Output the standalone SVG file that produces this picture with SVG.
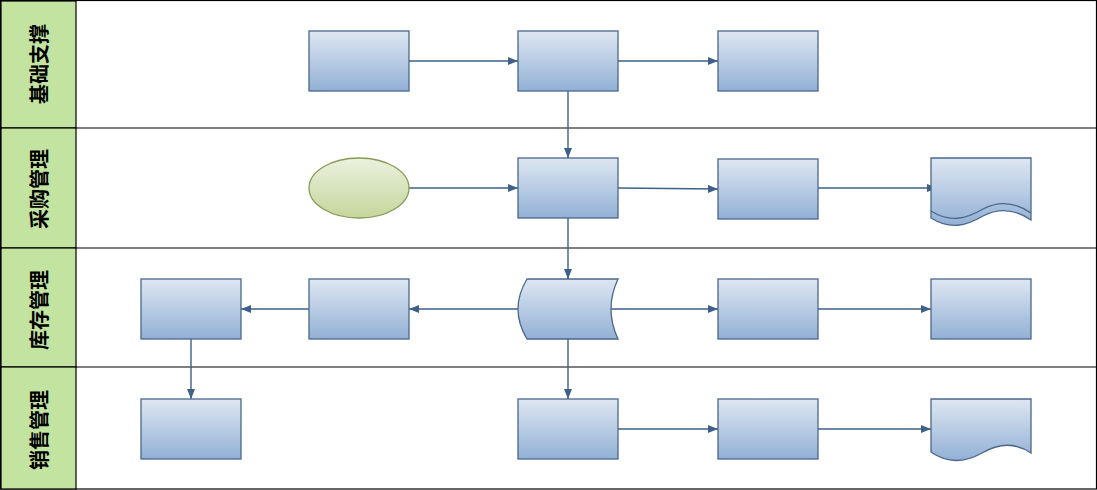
<svg xmlns="http://www.w3.org/2000/svg" width="1097" height="490" viewBox="0 0 1097 490">
<style>
.lane{fill:#ffffff;stroke:#000000;stroke-width:1.2}
.lbl{fill:#c3e3a1;stroke:#000000;stroke-width:1.2}
.lt{font-family:"Noto Sans CJK SC","Noto Sans CJK JP",sans-serif;font-size:20px;font-weight:bold;fill:#000000;text-anchor:middle;dominant-baseline:central}
.box{fill:url(#gb);stroke:#4a678c;stroke-width:1.3}
.ell{fill:url(#gg);stroke:#8a9a56;stroke-width:1.3}
.ln{fill:none;stroke:#4a678c;stroke-width:1.3}
.c{fill:none;stroke:#3d6189;stroke-width:1.4;marker-end:url(#ah)}
</style>
<defs>
<linearGradient id="gb" x1="0" y1="0" x2="0" y2="1">
<stop offset="0" stop-color="#dee7f2"/>
<stop offset="1" stop-color="#92b0d5"/>
</linearGradient>
<linearGradient id="gg" x1="0" y1="0" x2="0" y2="1">
<stop offset="0" stop-color="#ebf1df"/>
<stop offset="1" stop-color="#c4d69c"/>
</linearGradient>
<marker id="ah" markerWidth="10" markerHeight="8" refX="10" refY="4" orient="auto" markerUnits="userSpaceOnUse">
<path d="M0,0 L10,4 L0,8 Z" fill="#3d6189"/>
</marker>
</defs>
<g id="lanes">
<rect class="lane" x="0.5" y="0.5" width="1096" height="488.5"/>
<line x1="0" y1="128" x2="1097" y2="128" stroke="#000" stroke-width="1.2"/>
<line x1="0" y1="248" x2="1097" y2="248" stroke="#000" stroke-width="1.2"/>
<line x1="0" y1="367" x2="1097" y2="367" stroke="#000" stroke-width="1.2"/>
</g>
<g id="lane1"><rect class="lbl" x="1" y="1" width="75" height="127"/><text class="lt" transform="translate(38,64) rotate(-90)">基础支撑</text></g>
<g id="lane2"><rect class="lbl" x="1" y="128" width="75" height="120"/><text class="lt" transform="translate(38,189) rotate(-90)">采购管理</text></g>
<g id="lane3"><rect class="lbl" x="1" y="248" width="75" height="119"/><text class="lt" transform="translate(38,310) rotate(-90)">库存管理</text></g>
<g id="lane4"><rect class="lbl" x="1" y="367" width="75" height="122"/><text class="lt" transform="translate(38,430) rotate(-90)">销售管理</text></g>
<g id="connectors">
<path class="c" d="M409,61 H518"/>
<path class="c" d="M618,61 H718"/>
<path class="c" d="M568,91 V158"/>
<path class="c" d="M409,188 H518"/>
<path class="c" d="M618,188 L718,189"/>
<path class="c" d="M818,188 H937"/>
<path class="c" d="M568,218 V279"/>
<path class="c" d="M518,309 H409"/>
<path class="c" d="M309,309 H241"/>
<path class="c" d="M611,309 H718"/>
<path class="c" d="M818,309 H931"/>
<path class="c" d="M191,339 V399"/>
<path class="c" d="M568,339 V399"/>
<path class="c" d="M618,429 H718"/>
<path class="c" d="M818,429 H931"/>
</g>
<g id="n1"><rect class="box" x="309" y="31" width="100" height="60"/></g>
<g id="n2"><rect class="box" x="518" y="31" width="100" height="60"/></g>
<g id="n3"><rect class="box" x="718" y="31" width="100" height="60"/></g>
<g id="n4"><ellipse class="ell" cx="359" cy="188" rx="50" ry="30"/></g>
<g id="n5"><rect class="box" x="518" y="158" width="100" height="60"/></g>
<g id="n6"><rect class="box" x="718" y="159" width="100" height="60"/></g>
<g id="n7">
<path class="box" d="M931,158 H1031 V220 C1015,209 1000,207 983,216 C966,226 950,230 931,218 Z"/>
<path class="ln" d="M931,211 C950,223 966,219 983,209 C1000,200 1015,202 1031,213"/>
</g>
<g id="n8"><rect class="box" x="141" y="279" width="100" height="60"/></g>
<g id="n9"><rect class="box" x="309" y="279" width="100" height="60"/></g>
<g id="n10"><path class="box" d="M527,279 H618 Q604,309 618,339 H527 Q509,309 527,279 Z"/></g>
<g id="n11"><rect class="box" x="718" y="279" width="100" height="60"/></g>
<g id="n12"><rect class="box" x="931" y="279" width="100" height="60"/></g>
<g id="n13"><rect class="box" x="141" y="399" width="100" height="60"/></g>
<g id="n14"><rect class="box" x="518" y="399" width="100" height="60"/></g>
<g id="n15"><rect class="box" x="718" y="399" width="100" height="60"/></g>
<g id="n16"><path class="box" d="M931,399 H1031 V453 C1015,442 999,443 982,453 C966,462 948,464 931,452 Z"/></g>
</svg>
